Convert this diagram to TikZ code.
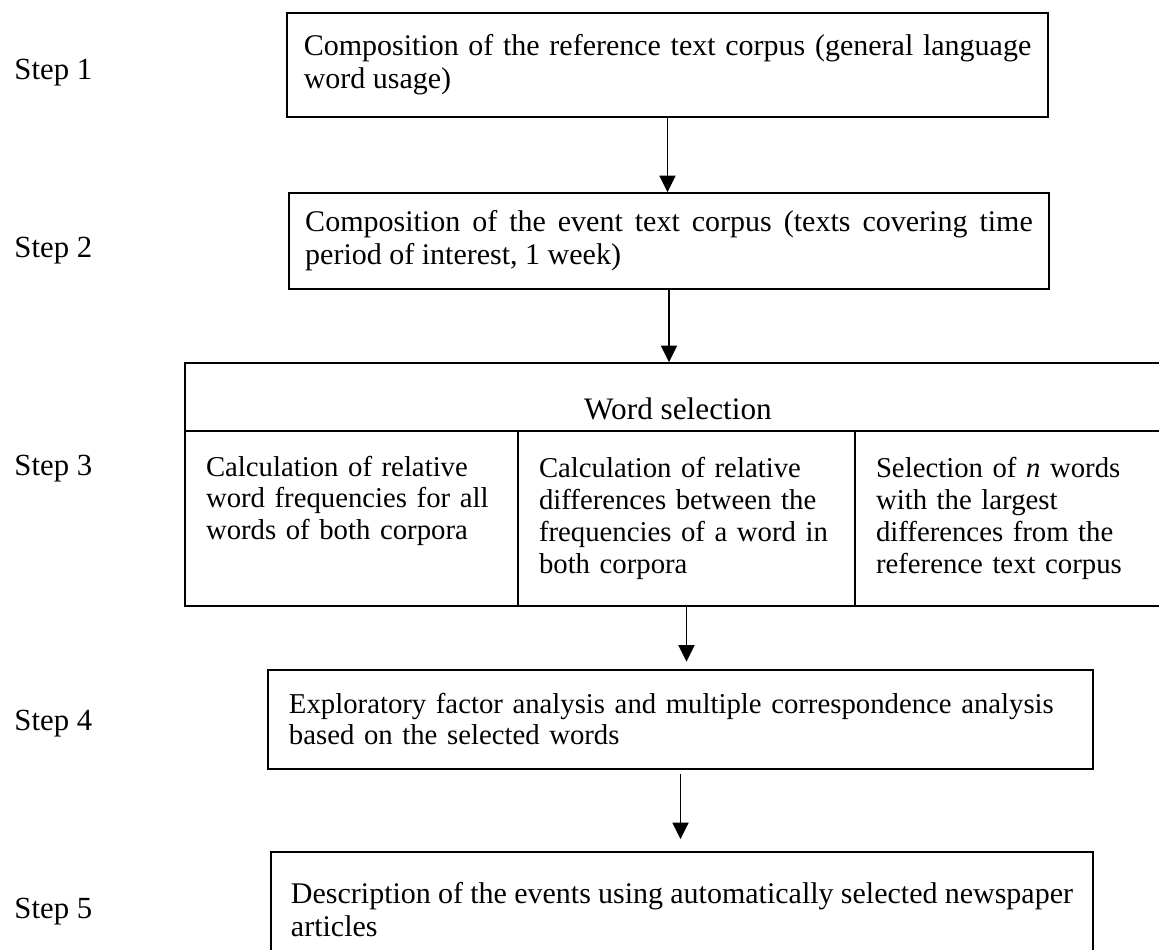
\documentclass[tikz,border=0pt]{standalone}
\usepackage{fontspec}
\setmainfont{Liberation Serif}
\usetikzlibrary{arrows.meta}
\tikzset{
  stepbox/.style={draw=black, line width=0.7pt, inner xsep=0pt, inner ysep=0pt,
                  align=justify, font=\fontsize{12}{13.2}\selectfont},
  cellbox/.style={draw=black, line width=0.7pt, inner xsep=0pt, inner ysep=0pt,
                  align=left, minimum height=70pt, font=\fontsize{11.5}{12.7}\selectfont},
  steplabel/.style={anchor=base west, inner sep=0pt, font=\fontsize{12.3}{14}\selectfont},
  flow/.style={line width=0.7pt, -{Triangle[length=6.6pt,width=6.4pt]}}
}

\begin{document}
\begin{tikzpicture}[x=0.4pt,y=-0.4pt]
\useasboundingbox (0,0) rectangle (1159,950);

% ── Step labels ───────────────────────────────────────────────────────────────
\node[steplabel] (step1) at (14,80)  {Step 1};
\node[steplabel] (step2) at (14,258) {Step 2};
\node[steplabel] (step3) at (14,476) {Step 3};
\node[steplabel] (step4) at (14,731) {Step 4};
\node[steplabel] (step5) at (14,918) {Step 5};

% ── Corpora ───────────────────────────────────────────────────────────────────
\node[stepbox, minimum width=304.4pt, minimum height=41.6pt, text width=291pt]
     (refcorp) at (667.5,65)
     {Composition of the reference text corpus (general language\linebreak word usage)};
\node[stepbox, minimum width=304pt, minimum height=38.4pt, text width=291pt]
     (evcorp) at (669,241)
     {Composition of the event text corpus (texts covering time\linebreak period of interest, 1 week)};

% ── Word selection ────────────────────────────────────────────────────────────
\node[draw=black, line width=0.7pt, inner sep=0pt, minimum width=394.4pt,
      minimum height=27.2pt, text height=18pt, text depth=0pt,
      font=\fontsize{12.5}{14}\selectfont] (wordsel) at (678,397) {Word selection};
\node[cellbox, minimum width=133.2pt, text width=116.4pt] (relfreq) at (351.5,518.5)
     {Calculation of relative\\ word frequencies for all\\ words of both corpora\\ \strut};
\node[cellbox, minimum width=134.8pt, text width=118pt] (reldiff) at (686.5,518.5)
     {Calculation of relative\\ differences between the\\ frequencies of a word in\\ both corpora};
\node[cellbox, minimum width=126.4pt, text width=109.6pt] (nwords) at (1013,518.5)
     {Selection of \emph{n} words\\ with the largest\\ differences from the\\ reference text corpus};

% ── Analysis and description ──────────────────────────────────────────────────
\node[stepbox, align=left, font=\fontsize{11.5}{12.4}\selectfont,
      minimum width=330pt, minimum height=39.6pt, text width=313.2pt]
     (factor) at (680.5,719.5)
     {Exploratory factor analysis and multiple correspondence analysis\\ based on the selected words};
\node[stepbox, minimum width=328.8pt, minimum height=46.4pt, text width=312.8pt]
     (events) at (682,910)
     {Description of the events using automatically selected newspaper\linebreak articles};

% ── Arrows ────────────────────────────────────────────────────────────────────
\draw[flow] (refcorp.south) -- (refcorp.south |- evcorp.north);
\draw[flow] (evcorp.south) -- (evcorp.south |- wordsel.north);
\draw[flow, shorten >=3pt] (reldiff.south) -- (reldiff.south |- factor.north);
\draw[flow, shorten <=1.6pt, shorten >=4.8pt] (factor.south) -- (factor.south |- events.north);

\end{tikzpicture}
\end{document}
